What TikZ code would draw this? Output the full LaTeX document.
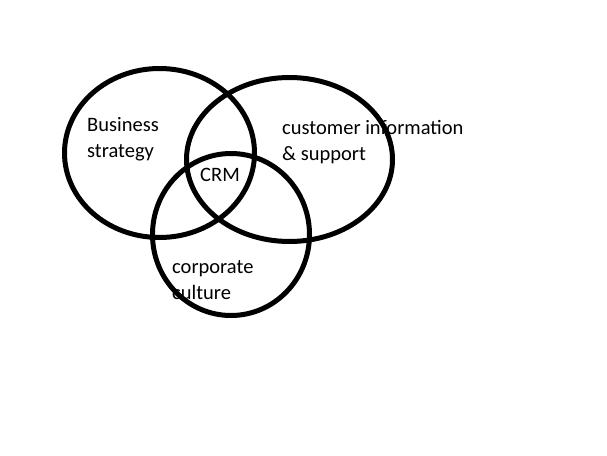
\documentclass[tikz,border=0pt]{standalone}
\usepackage{fontspec}
\setmainfont{Carlito}
\begin{document}
\begin{tikzpicture}[x=1pt,y=-1pt,
  ring/.style={draw=black,line width=5pt},
  lbl/.style={anchor=base west,inner sep=0pt,font=\fontsize{20.5pt}{26pt}\selectfont,align=left}]
\useasboundingbox[fill=white] (0,0) rectangle (607,455);
\draw[ring] (159.5,153) ellipse [x radius=95, y radius=84.5];
\draw[ring] (289.5,159.5) ellipse [x radius=103, y radius=82];
\draw[ring] (231,234.5) ellipse [x radius=78.5, y radius=81];
\node[lbl] (bs) at (87,157) {Business\\strategy};
\node[lbl] (ci) at (282,160) {customer information\\\& support};
\node[lbl] (crm) at (200,181) {CRM};
\node[lbl] (cc) at (172,299) {corporate\\culture};
\end{tikzpicture}
\end{document}
